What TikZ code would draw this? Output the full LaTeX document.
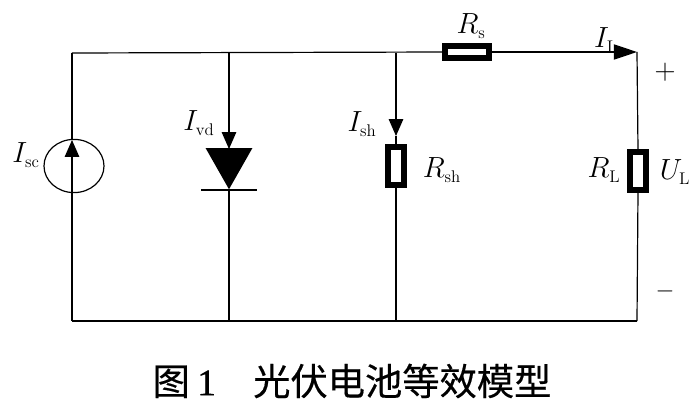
\documentclass[tikz,border=0pt]{standalone}
\usepackage{fontspec}
\newfontfamily\cjk[FakeBold=0.4]{Noto Sans CJK SC}
\newfontfamily\capnum[FakeBold=1]{Liberation Serif}
\usetikzlibrary{arrows.meta,shapes.geometric}
\DeclareMathSizes{20.74}{20.74}{12}{10}

\tikzstyle{wire}=[line width=0.85pt]
\tikzstyle{arrow}=[wire, -{Triangle[length=0.42cm,width=0.36cm]}]
\tikzstyle{res}=[draw, line width=3.9pt, inner sep=0pt]
\tikzstyle{label}=[inner sep=0pt, font=\huge]

\begin{document}
\begin{tikzpicture}[x=0.025cm, y=-0.025cm]
      \useasboundingbox (0, 0) rectangle (700, 414);

      \coordinate (tl) at (72, 53);
      \coordinate (td) at (229, 53);
      \coordinate (ts) at (396, 53);
      \coordinate (tr) at (637, 52);
      \coordinate (bl) at (72, 321);
      \coordinate (bd) at (229, 321);
      \coordinate (bs) at (396, 321);
      \coordinate (br) at (637, 321);
      \coordinate (srctip) at (72, 140);
      \coordinate (vdtip) at (229, 149);
      \coordinate (shtip) at (396, 136);

      \node[draw, wire, ellipse, minimum width=1.5cm, minimum height=1.33cm, inner sep=0pt] (src) at (74, 166) {};
      \node[fill=black, isosceles triangle, isosceles triangle stretches, shape border rotate=270, anchor=apex, minimum width=1.17cm, minimum height=1.03cm, inner sep=0pt] (vd) at (229, 190) {};
      \coordinate (barl) at (201, 190);
      \coordinate (barr) at (257, 190);
      \node[res, minimum width=1.09cm, minimum height=0.31cm] (rs) at (467, 52) {};
      \node[res, minimum width=0.39cm, minimum height=0.94cm] (rsh) at (396, 166) {};
      \node[res, minimum width=0.39cm, minimum height=0.96cm] (rl) at (638, 171) {};

      \node[label] (isc) at (26, 155) {$I_{\mathrm{sc}}$};
      \node[label] (ivd) at (199, 123) {$I_{\mathrm{vd}}$};
      \node[label] (ish) at (362, 124) {$I_{\mathrm{sh}}$};
      \node[label] (rshl) at (442, 170) {$R_{\mathrm{sh}}$};
      \node[label] (rsl) at (471, 26) {$R_{\mathrm{s}}$};
      \node[label] (il) at (606, 40) {$I_{\mathrm{L}}$};
      \node[label] (rll) at (604, 170) {$R_{\mathrm{L}}$};
      \node[label] (ul) at (675, 172) {$U_{\mathrm{L}}$};
      \node[label, font=\huge] (plus) at (665, 72) {$+$};
      \node[label, font=\LARGE] (minus) at (665, 291) {$-$};
      \node[inner sep=0pt, font=\fontsize{26.5}{30}\selectfont] (cap) at (352, 381) {\cjk 图\hspace{0.2em}{\capnum 1}\hspace{1em}光伏电池等效模型};

      \draw[wire] (tl) -- (rs.west);
      \draw[wire] (tl) -- (srctip);
      \draw[arrow] (bl) -- (srctip);
      \draw[arrow] (td) -- (vdtip);
      \draw[wire] (barl) -- (barr);
      \draw[wire] (vd.apex) -- (bd);
      \draw[arrow] (ts) -- (shtip);
      \draw[wire] (shtip) -- (rsh.north);
      \draw[wire] (rsh.south) -- (bs);
      \draw[wire, -{Triangle[length=0.58cm,width=0.38cm]}] (rs.east) -- (tr);
      \draw[wire] (tr) -- (rl.north);
      \draw[wire] (rl.south) -- (br);
      \draw[wire] (bl) -- (br);
    \end{tikzpicture}
\end{document}
